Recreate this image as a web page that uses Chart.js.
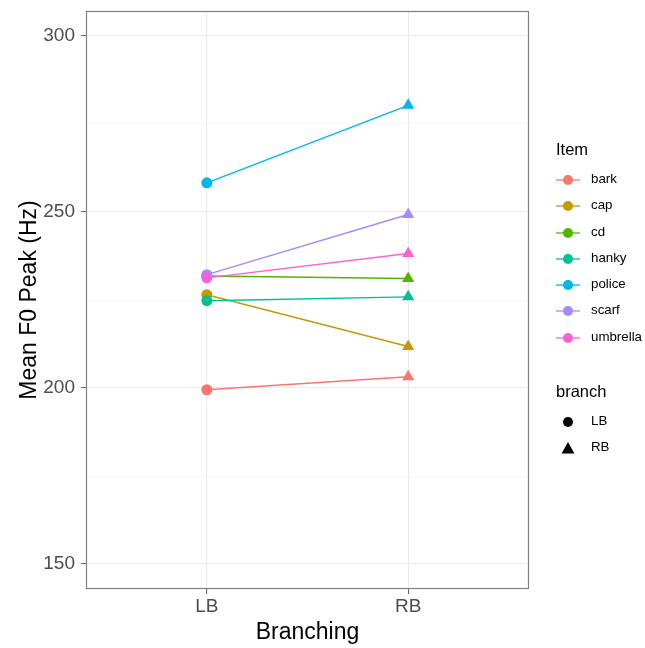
<!DOCTYPE html>
<html>
<head>
<meta charset="utf-8">
<script src="https://cdn.jsdelivr.net/npm/chart.js@4"></script>
<style>
  html, body { margin: 0; padding: 0; background: #fff; }
  #wrap { position: relative; width: 645px; height: 648px; font-family: "Liberation Sans", Arial, sans-serif; }
  #legend { position: absolute; left: 556px; top: 140px; color: #000; }
  .ttl { font-size: 16.5px; height: 31px; }
  .row { position: relative; height: 26.3px; font-size: 13.3px; }
  .row .key { position: absolute; left: 0; top: 2px; width: 24px; height: 14px; }
  .row .lab { position: absolute; left: 35px; top: 0px; }
</style>
</head>
<body>
<div id="wrap">
  <canvas id="c" width="645" height="648"></canvas>
  <div id="legend"></div>
</div>
<script>
// categories / series
const branches = ['LB', 'RB'];
const items = ['bark', 'cap', 'cd', 'hanky', 'police', 'scarf', 'umbrella'];
const colors = ['#F8766D', '#C49A00', '#53B400', '#00C094', '#00B6EB', '#A58AFF', '#FB61D7'];
const lbValues = [199.5, 226.5, 231.8, 224.8, 258.3, 232.2, 231.3];
const rbValues = [203.2, 211.8, 231.1, 225.9, 280.3, 249.3, 238.2];
const yTicks = [150, 175, 200, 225, 250, 275, 300];
const yLabels = [150, 200, 250, 300];

const datasets = items.map((name, i) => ({
  label: name,
  data: [{ x: 1, y: lbValues[i] }, { x: 2, y: rbValues[i] }],
  borderColor: colors[i],
  backgroundColor: colors[i],
  borderWidth: 1.4,
  pointStyle: ['circle', 'triangle'],
  pointRadius: [5.5, 7],
  pointBorderWidth: 0,
  showLine: true,
  order: items.length - i
}));

const panelBorder = {
  id: 'panelBorder',
  afterDraw(chart) {
    const a = chart.chartArea, ctx = chart.ctx;
    ctx.save();
    ctx.strokeStyle = '#7f7f7f';
    ctx.lineWidth = 1.2;
    ctx.strokeRect(a.left + 0.5, a.top + 0.5, a.right - a.left - 1, a.bottom - a.top - 1);
    ctx.restore();
  }
};

new Chart(document.getElementById('c'), {
  type: 'scatter',
  data: { datasets },
  options: {
    responsive: false,
    animation: false,
    layout: { padding: { top: 11, right: 116, bottom: 2, left: 4 } },
    plugins: { legend: { display: false }, tooltip: { enabled: false } },
    scales: {
      x: {
        type: 'linear', min: 0.4, max: 2.6,
        afterBuildTicks: s => { s.ticks = branches.map((b, i) => ({ value: i + 1 })); },
        afterFit: s => { s.height = 57; s.paddingLeft = 0; s.paddingRight = 0; },
        ticks: { callback: v => branches[v - 1], color: '#4d4d4d', font: { size: 19, family: 'Liberation Sans' }, padding: 1 },
        grid: { color: '#ebebeb', lineWidth: 1.1, tickLength: 5, tickColor: '#666' },
        border: { display: false },
        title: { display: true, text: 'Branching', color: '#000', font: { size: 23, family: 'Liberation Sans' }, padding: { top: 0, bottom: 0 } }
      },
      y: {
        min: 142.9, max: 307.1,
        afterBuildTicks: s => { s.ticks = yTicks.map(v => ({ value: v })); },
        afterFit: s => { s.width = 82; s.paddingTop = 0; s.paddingBottom = 0; },
        ticks: { callback: v => yLabels.includes(v) ? String(v) : '', color: '#4d4d4d', font: { size: 19, family: 'Liberation Sans' }, padding: 6 },
        grid: {
          color: c => yLabels.includes(c.tick.value) ? '#ebebeb' : '#f4f4f4',
          lineWidth: c => yLabels.includes(c.tick.value) ? 1.1 : 0.8,
          tickLength: 5,
          tickColor: c => yLabels.includes(c.tick.value) ? '#666' : 'rgba(0,0,0,0)'
        },
        border: { display: false },
        title: { display: true, text: 'Mean F0 Peak (Hz)', color: '#000', font: { size: 23, family: 'Liberation Sans' }, padding: { top: 12, bottom: 0 } }
      }
    }
  },
  plugins: [panelBorder]
});

// legend
let html = '<div class="ttl">Item</div>';
items.forEach((name, i) => {
  html += '<div class="row"><svg class="key" viewBox="0 0 24 14"><line x1="0" y1="7" x2="24" y2="7" stroke="' + colors[i] +
    '" stroke-width="1.3"/><circle cx="12" cy="7" r="5" fill="' + colors[i] + '"/></svg><span class="lab">' + name + '</span></div>';
});
html += '<div style="height:27px"></div><div class="ttl">branch</div>';
html += '<div class="row"><svg class="key" viewBox="0 0 24 14"><circle cx="12" cy="7" r="5" fill="#000"/></svg><span class="lab">LB</span></div>';
html += '<div class="row"><svg class="key" viewBox="0 0 24 14"><polygon points="12,1 18.5,12.5 5.5,12.5" fill="#000"/></svg><span class="lab">RB</span></div>';
document.getElementById('legend').innerHTML = html;
</script>
</body>
</html>
